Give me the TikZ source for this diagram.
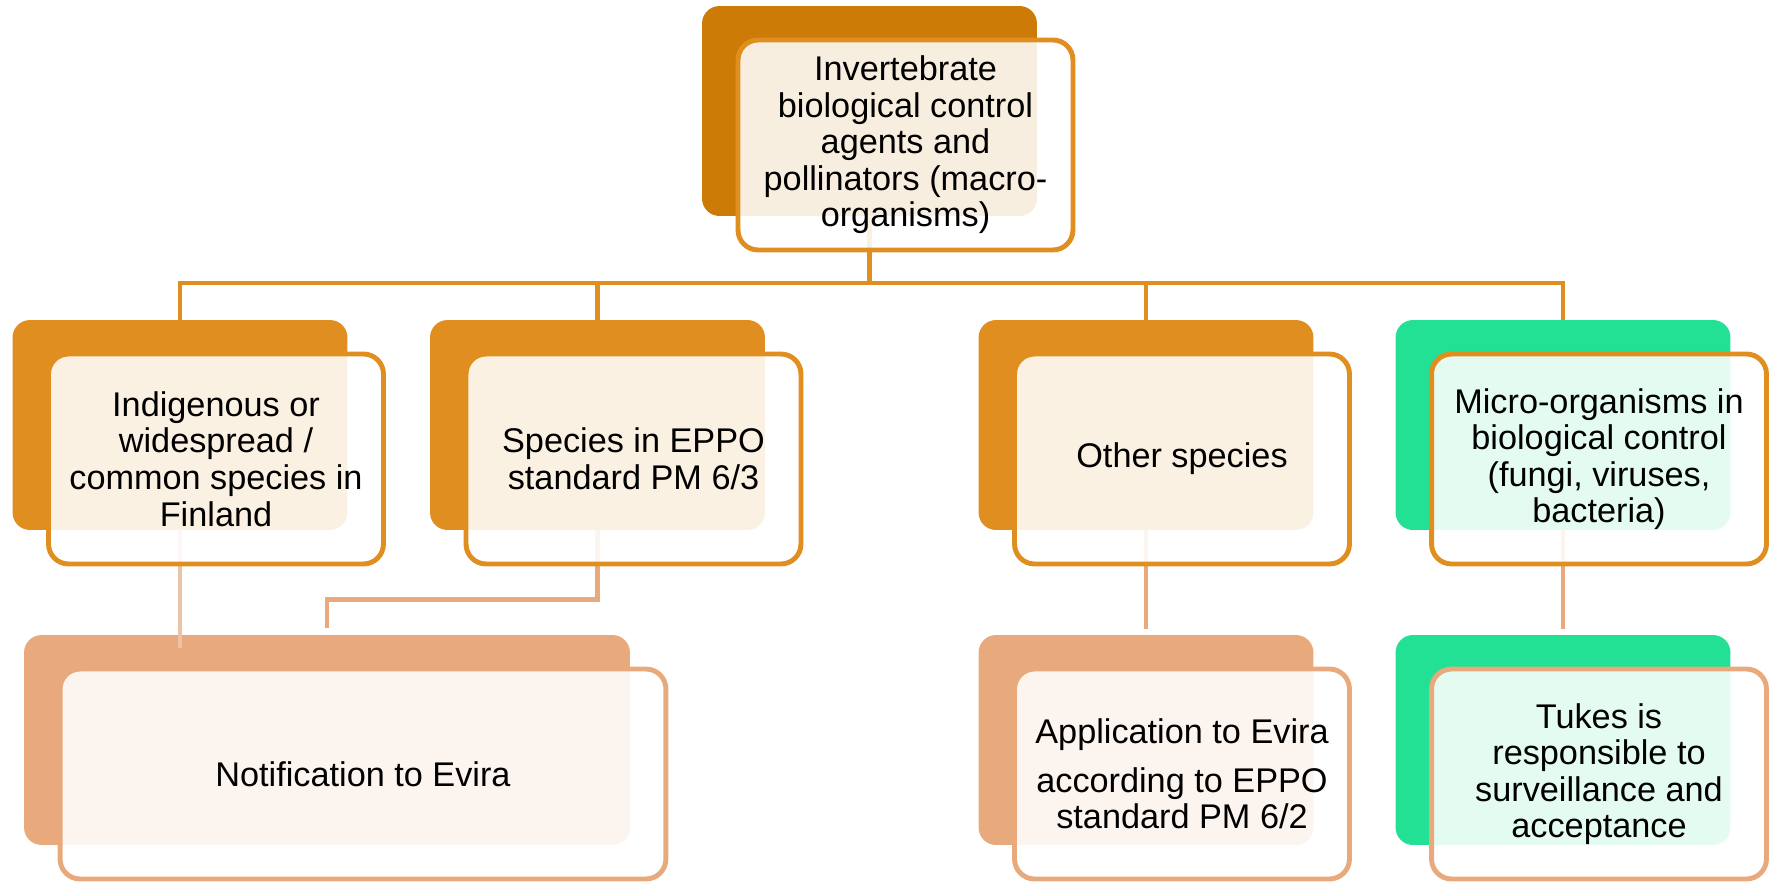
\documentclass[tikz,border=0pt]{standalone}
\usepackage{fontspec}
\setmainfont{Liberation Sans}
\definecolor{topback}{HTML}{CC7B06}
\definecolor{orng}{HTML}{E08E20}
\definecolor{grn}{HTML}{22E094}
\definecolor{peach}{HTML}{E8AA7C}
\definecolor{palepeach}{HTML}{EBC4A8}
\begin{document}
\begin{tikzpicture}[x=0.02cm, y=-0.02cm,
        back/.style={rounded corners=0.35cm, minimum width=6.7cm, minimum height=4.2cm, inner sep=0pt},
        front/.style={draw, line width=2.8pt, rounded corners=0.4cm, fill=white, fill opacity=0.88, text opacity=1,
            minimum width=6.7cm, minimum height=4.2cm, inner sep=0pt, align=center,
            font=\fontsize{19.5pt}{20.8pt}\selectfont, xshift=0.72cm, yshift=-0.68cm},
        link/.style={line width=2.6pt}]
        \useasboundingbox (0,0) rectangle (1775,883);

        \node[back, fill=topback] (top) at (869.5,111) {};
        \node[back, fill=orng] (indig) at (180,425) {};
        \node[back, fill=orng] (eppo) at (597.5,425) {};
        \node[back, fill=orng] (other) at (1146,425) {};
        \node[back, fill=grn] (micro) at (1563,425) {};
        \node[back, fill=peach, minimum width=12.12cm] (notif) at (327,740) {};
        \node[back, fill=peach] (appl) at (1146,740) {};
        \node[back, fill=grn] (tukes) at (1563,740) {};

        \coordinate (hub) at (869.5,283);
        \coordinate (indigend) at (180,648);
        \draw[link, orng] (top.south) -- (hub);
        \draw[link, orng] (hub) -| (indig.north);
        \draw[link, orng] (hub) -| (eppo.north);
        \draw[link, orng] (hub) -| (other.north);
        \draw[link, orng] (hub) -| (micro.north);

        \draw[link, palepeach] (indig.south) -- (indigend);
        \draw[link, peach] (eppo.south) |- ([yshift=0.7cm]notif.north) -- ([yshift=0.14cm]notif.north);
        \draw[link, peach] (other.south) -- ([yshift=0.12cm]appl.north);
        \draw[link, peach] (micro.south) -- ([yshift=0.12cm]tukes.north);

        \node[front, draw=orng] (topf) at (top) {Invertebrate\\biological control\\agents and\\pollinators (macro-\\organisms)};
        \node[front, draw=orng] (indigf) at (indig) {Indigenous or\\widespread /\\common species in\\Finland};
        \node[front, draw=orng] (eppof) at (eppo) {Species in EPPO\\standard PM 6/3};
        \node[front, draw=orng] (otherf) at (other) {Other species};
        \node[front, draw=orng] (microf) at (micro) {Micro-organisms in\\biological control\\(fungi, viruses,\\bacteria)};
        \node[front, draw=peach, minimum width=12.12cm] (notiff) at (notif) {Notification to Evira};
        \node[front, draw=peach] (applf) at (appl) {Application to Evira\\[0.24cm]according to EPPO\\standard PM 6/2};
        \node[front, draw=peach] (tukesf) at (tukes) {Tukes is\\responsible to\\surveillance and\\acceptance};

    \end{tikzpicture}
\end{document}
